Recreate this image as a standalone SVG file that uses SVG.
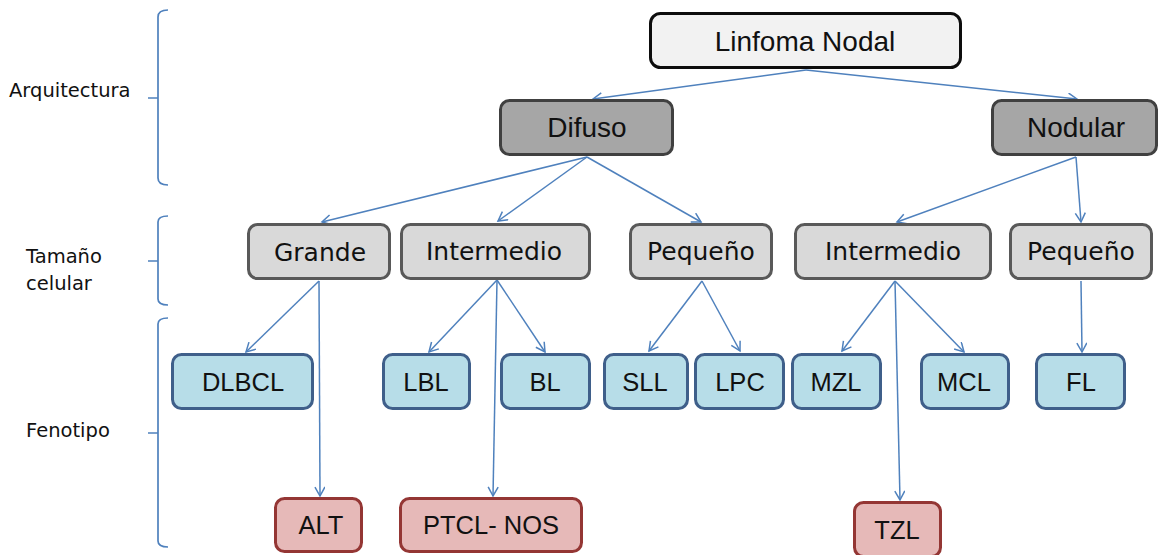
<svg xmlns="http://www.w3.org/2000/svg" width="1159" height="555" viewBox="0 0 1159 555">
<style>
.n rect{stroke-width:3}
.root rect{fill:#f2f2f2;stroke:#0d0d0d}
.arch rect{fill:#a6a6a6;stroke:#404040}
.size rect{fill:#d9d9d9;stroke:#595959}
.phen rect{fill:#b7dde8;stroke:#3f5f8a}
.alt rect{fill:#e6b9b8;stroke:#943634}
.t{font-family:"Liberation Sans",Arial,sans-serif;fill:#111;text-anchor:middle}
.t0{font-size:28px}
.t2{font-family:"DejaVu Sans",Verdana,sans-serif;font-size:25px;fill:#111;text-anchor:middle}
.t3{font-size:25.5px}
.lab{font-family:"DejaVu Sans",Verdana,sans-serif;font-size:19.5px;fill:#111}
.c line{stroke:#4f81bd;stroke-width:1.5;fill:none}
.br{stroke:#4f81bd;stroke-width:1.7;fill:none}
</style>
<defs>
<marker id="ah" markerWidth="12" markerHeight="12" refX="10" refY="5.5" orient="auto" markerUnits="userSpaceOnUse">
<path d="M1,0.5 L10,5.5 L1,10.5" fill="none" stroke="#4f81bd" stroke-width="1.5"/>
</marker>
</defs>
<rect width="1159" height="555" fill="#fff"/>
<g id="side-labels">
<path class="br" d="M168,10 Q158,10 158,17 L158,98 L148,98 L158,98 L158,178 Q158,185 168,185"/>
<text class="lab" x="9" y="97">Arquitectura</text>
<path class="br" d="M168,216 Q158,216 158,222 L158,261 L148,261 L158,261 L158,299 Q158,305 168,305"/>
<text class="lab" x="26" y="263">Tamaño</text>
<text class="lab" x="26" y="290">celular</text>
<path class="br" d="M168,318 Q158,318 158,324 L158,433 L148,433 L158,433 L158,541 Q158,547 168,547"/>
<text class="lab" x="26" y="437">Fenotipo</text>
</g>
<g class="c" id="connectors">
<line x1="806" y1="70" x2="593" y2="99" marker-end="url(#ah)"/>
<line x1="806" y1="70" x2="1077" y2="99" marker-end="url(#ah)"/>
<line x1="587" y1="157" x2="322" y2="222" marker-end="url(#ah)"/>
<line x1="587" y1="157" x2="498" y2="221" marker-end="url(#ah)"/>
<line x1="587" y1="157" x2="701" y2="222" marker-end="url(#ah)"/>
<line x1="1076" y1="157" x2="897" y2="222" marker-end="url(#ah)"/>
<line x1="1076" y1="157" x2="1081" y2="222" marker-end="url(#ah)"/>
<line x1="319" y1="281" x2="246" y2="352" marker-end="url(#ah)"/>
<line x1="319" y1="281" x2="320" y2="496" marker-end="url(#ah)"/>
<line x1="497" y1="280" x2="429" y2="352" marker-end="url(#ah)"/>
<line x1="497" y1="280" x2="545" y2="352" marker-end="url(#ah)"/>
<line x1="497" y1="280" x2="493" y2="496" marker-end="url(#ah)"/>
<line x1="702" y1="281" x2="649" y2="351" marker-end="url(#ah)"/>
<line x1="702" y1="281" x2="740" y2="351" marker-end="url(#ah)"/>
<line x1="895" y1="281" x2="842" y2="351" marker-end="url(#ah)"/>
<line x1="895" y1="281" x2="964" y2="352" marker-end="url(#ah)"/>
<line x1="895" y1="281" x2="900" y2="500" marker-end="url(#ah)"/>
<line x1="1081" y1="281" x2="1082" y2="352" marker-end="url(#ah)"/>
</g>
<g id="linfoma-nodal" class="n root"><rect x="650.5" y="13.5" width="310" height="54" rx="10"/><text class="t t0" x="805" y="51">Linfoma Nodal</text></g>
<g id="difuso" class="n arch"><rect x="500.5" y="100.5" width="172" height="54" rx="9"/><text class="t t0" x="587" y="137">Difuso</text></g>
<g id="nodular" class="n arch"><rect x="992.5" y="100.5" width="164" height="54" rx="9"/><text class="t t0" x="1076" y="137">Nodular</text></g>
<g id="grande" class="n size"><rect x="248.5" y="224.5" width="141" height="54" rx="9"/><text class="t2" x="320" y="261">Grande</text></g>
<g id="intermedio-d" class="n size"><rect x="401.5" y="224.5" width="188" height="54" rx="9"/><text class="t2" x="494" y="260">Intermedio</text></g>
<g id="pequeno-d" class="n size"><rect x="630.5" y="224.5" width="141" height="54" rx="9"/><text class="t2" x="701" y="260">Pequeño</text></g>
<g id="intermedio-n" class="n size"><rect x="795.5" y="224.5" width="195" height="54" rx="9"/><text class="t2" x="893" y="260">Intermedio</text></g>
<g id="pequeno-n" class="n size"><rect x="1010.5" y="224.5" width="141" height="54" rx="9"/><text class="t2" x="1081" y="260">Pequeño</text></g>
<g id="dlbcl" class="n phen"><rect x="172.5" y="354.5" width="140" height="54" rx="9"/><text class="t t3" x="243" y="391">DLBCL</text></g>
<g id="lbl" class="n phen"><rect x="383.5" y="354.5" width="86" height="54" rx="9"/><text class="t t3" x="426" y="391">LBL</text></g>
<g id="bl" class="n phen"><rect x="501.5" y="354.5" width="88" height="54" rx="9"/><text class="t t3" x="545" y="391">BL</text></g>
<g id="sll" class="n phen"><rect x="604.5" y="354.5" width="83" height="54" rx="9"/><text class="t t3" x="645" y="391">SLL</text></g>
<g id="lpc" class="n phen"><rect x="695.5" y="354.5" width="88" height="54" rx="9"/><text class="t t3" x="740" y="391">LPC</text></g>
<g id="mzl" class="n phen"><rect x="792.5" y="354.5" width="88" height="54" rx="9"/><text class="t t3" x="836" y="391">MZL</text></g>
<g id="mcl" class="n phen"><rect x="921.5" y="354.5" width="87" height="54" rx="9"/><text class="t t3" x="964" y="391">MCL</text></g>
<g id="fl" class="n phen"><rect x="1036.5" y="354.5" width="88" height="54" rx="9"/><text class="t t3" x="1081" y="391">FL</text></g>
<g id="alt" class="n alt"><rect x="275.5" y="498.5" width="86" height="53" rx="9"/><text class="t t3" x="321" y="534">ALT</text></g>
<g id="ptcl-nos" class="n alt"><rect x="400.5" y="498.5" width="181" height="53" rx="9"/><text class="t t3" x="491" y="534">PTCL- NOS</text></g>
<g id="tzl" class="n alt"><rect x="854.5" y="502.5" width="86" height="54" rx="9"/><text class="t t3" x="897" y="539">TZL</text></g>
</svg>
